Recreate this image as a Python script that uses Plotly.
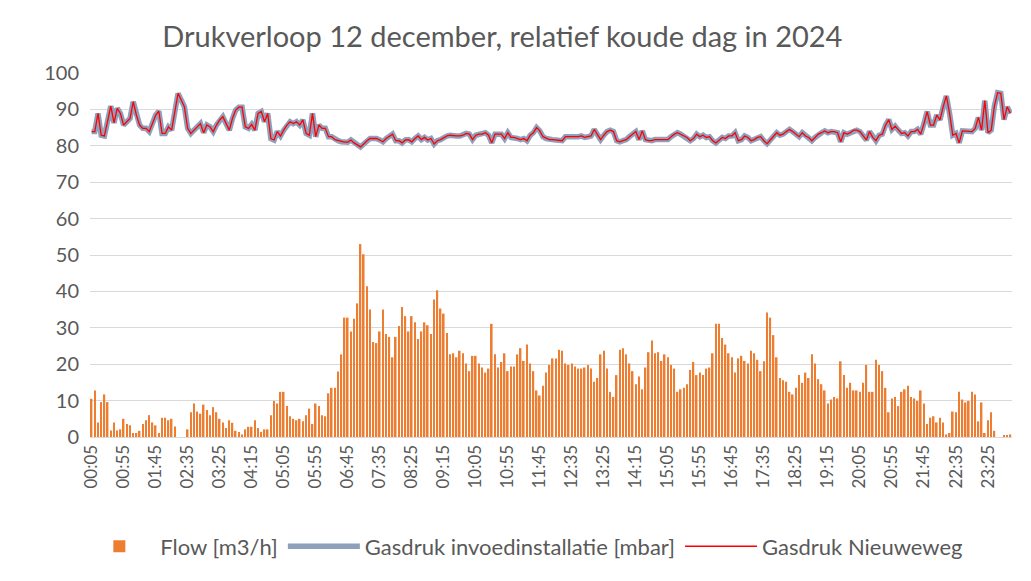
import plotly.graph_objects as go

# time stamps every 5 minutes, 00:05 .. 24:00
times = [f"{(5 * k) // 60:02d}:{(5 * k) % 60:02d}" for k in range(1, 289)]
tick_labels = times[::10]

flow = [
    10.5, 12.8, 4.0, 9.6, 11.7, 9.6, 1.8, 4.0, 1.8, 2.1,
    5.0, 3.6, 3.2, 1.1, 1.1, 1.7, 3.6, 4.6, 6.0, 4.0,
    3.2, 1.1, 5.3, 5.3, 4.6, 5.0, 2.9, 0.0, 0.0, 0.0,
    2.1, 6.8, 9.2, 7.0, 6.4, 8.9, 7.4, 6.0, 8.2, 6.8,
    5.0, 4.0, 2.5, 4.6, 3.9, 1.7, 1.4, 0.7, 2.1, 2.8,
    2.8, 4.6, 2.5, 1.4, 2.1, 2.1, 6.0, 9.9, 9.2, 12.4,
    12.4, 8.5, 5.7, 5.0, 4.6, 5.0, 4.3, 6.0, 7.8, 3.6,
    9.2, 8.5, 6.0, 5.7, 12.0, 13.5, 13.5, 18.0, 22.7, 32.8,
    32.8, 29.0, 32.5, 36.7, 53.0, 50.2, 41.4, 35.0, 26.1, 25.8,
    29.0, 35.0, 28.3, 27.5, 21.9, 27.5, 30.5, 35.7, 33.2, 29.0,
    33.2, 31.5, 26.9, 29.0, 31.5, 30.7, 28.3, 37.8, 40.3, 35.3,
    33.9, 28.6, 22.7, 23.0, 21.9, 23.7, 23.0, 20.2, 18.1, 22.3,
    22.3, 20.2, 19.1, 17.7, 18.8, 31.1, 22.7, 19.1, 20.6, 23.0,
    18.1, 19.4, 19.4, 22.7, 24.4, 20.9, 25.4, 20.2, 18.1, 12.8,
    11.4, 14.1, 17.7, 19.8, 21.6, 21.6, 24.0, 23.7, 20.2, 19.8,
    20.2, 19.4, 18.8, 18.8, 19.1, 19.8, 18.8, 15.2, 16.2, 22.7,
    23.7, 18.8, 12.4, 11.0, 17.0, 24.0, 24.4, 22.7, 20.2, 18.1,
    14.5, 16.6, 13.1, 19.1, 23.3, 26.5, 23.0, 23.3, 20.9, 22.7,
    21.9, 19.8, 18.8, 12.4, 13.1, 13.5, 14.5, 18.4, 20.6, 17.0,
    17.7, 17.0, 18.8, 19.1, 23.0, 31.1, 31.1, 27.2, 25.4, 23.0,
    21.9, 17.7, 21.6, 22.3, 20.9, 20.2, 23.7, 23.0, 21.2, 18.1,
    20.8, 34.2, 32.8, 28.0, 21.9, 16.2, 15.6, 15.2, 12.4, 11.7,
    13.5, 17.0, 14.9, 17.7, 16.2, 22.7, 20.2, 15.9, 14.5, 12.8,
    9.2, 10.3, 11.0, 10.6, 20.8, 17.0, 13.5, 14.9, 12.8, 12.8,
    12.4, 14.9, 19.8, 12.4, 12.4, 21.2, 19.8, 18.1, 13.5, 6.8,
    10.6, 11.0, 8.5, 12.4, 13.1, 14.1, 11.0, 10.6, 9.9, 12.8,
    9.2, 3.6, 5.3, 5.7, 4.0, 5.3, 4.0, 0.7, 1.1, 7.0,
    6.8, 12.4, 10.3, 9.5, 9.9, 12.4, 11.7, 4.3, 9.5, 1.1,
    4.6, 6.8, 1.7, 0.0, 0.0, 0.5, 0.5, 0.7,
]

druk_invoed = [
    83.9, 83.9, 88.9, 82.9, 82.7, 86.6, 90.9, 86.3, 90.3, 88.9,
    85.7, 86.6, 87.5, 92.1, 88.4, 85.7, 84.8, 84.8, 83.9, 86.1,
    88.4, 89.5, 83.4, 83.4, 85.2, 84.3, 89.4, 94.4, 92.6, 90.7,
    84.8, 83.4, 84.3, 85.2, 86.1, 83.6, 85.7, 85.2, 83.9, 85.7,
    87.1, 88.0, 86.1, 84.3, 87.5, 89.8, 90.6, 90.6, 85.2, 84.8,
    85.9, 84.3, 88.9, 89.4, 86.6, 88.9, 82.0, 81.6, 83.9, 82.7,
    84.3, 85.7, 86.6, 86.1, 86.6, 85.7, 87.1, 83.4, 82.9, 88.9,
    82.5, 85.7, 84.8, 84.8, 82.5, 82.5, 81.7, 81.4, 81.1, 81.0,
    81.0, 81.6, 80.8, 80.2, 79.7, 80.5, 81.4, 82.0, 82.0, 82.0,
    81.6, 81.1, 82.0, 82.5, 83.2, 81.4, 81.4, 80.8, 81.6, 81.7,
    81.1, 82.0, 82.7, 81.7, 82.3, 81.6, 82.0, 80.5, 81.4, 81.7,
    82.3, 82.7, 82.9, 82.7, 82.7, 82.7, 82.9, 83.4, 83.2, 81.7,
    82.9, 83.2, 83.2, 83.6, 82.9, 80.8, 83.2, 83.2, 83.2, 82.0,
    83.6, 82.3, 82.3, 82.0, 81.7, 82.0, 81.4, 82.9, 83.6, 85.0,
    84.1, 82.5, 82.0, 81.7, 81.7, 81.6, 81.4, 81.4, 82.5, 82.5,
    82.5, 82.3, 82.5, 82.7, 82.3, 82.5, 82.7, 84.5, 82.9, 81.7,
    82.9, 83.9, 84.3, 83.9, 81.4, 81.1, 81.4, 81.7, 82.5, 83.2,
    83.9, 81.7, 84.1, 81.7, 81.4, 81.4, 81.7, 81.7, 81.7, 81.7,
    81.7, 82.5, 83.2, 83.6, 83.2, 82.7, 82.3, 81.4, 82.0, 83.2,
    82.5, 82.9, 82.3, 82.5, 81.4, 80.8, 81.6, 82.3, 82.0, 82.7,
    82.7, 83.6, 81.4, 81.7, 82.7, 82.3, 81.4, 81.7, 82.3, 82.5,
    81.4, 80.6, 81.6, 82.5, 83.6, 82.9, 83.2, 83.9, 84.5, 83.9,
    83.2, 82.5, 83.6, 82.7, 82.3, 81.4, 82.3, 83.2, 83.6, 84.1,
    83.6, 83.9, 83.9, 83.6, 81.1, 83.6, 83.2, 83.6, 84.3, 84.3,
    83.9, 82.7, 81.6, 83.9, 82.3, 81.4, 82.9, 83.2, 85.7, 87.2,
    84.5, 85.4, 84.3, 83.4, 83.6, 82.7, 83.9, 83.9, 84.5, 83.2,
    86.1, 89.4, 85.7, 85.7, 88.4, 87.1, 90.7, 93.7, 88.9, 82.9,
    83.4, 80.8, 84.1, 84.1, 84.1, 83.9, 84.8, 87.8, 84.3, 92.4,
    83.6, 84.3, 90.9, 94.6, 94.4, 87.2, 90.7, 88.9,
]

druk_nieuweweg = list(druk_invoed)

title_text = "Drukverloop 12 december, relatief koude dag in 2024"
font_family = "Lato, 'Open Sans', sans-serif"
grey_text = "#595959"

fig = go.Figure()
fig.add_trace(go.Bar(
    x=times, y=flow, name="Flow [m3/h]",
    marker=dict(color="#ED7D31", line=dict(width=0)),
))
fig.add_trace(go.Scatter(
    x=times, y=druk_invoed, name="Gasdruk invoedinstallatie [mbar]",
    mode="lines", line=dict(color="#8FA0BC", width=5.5),
))
fig.add_trace(go.Scatter(
    x=times, y=druk_nieuweweg, name="Gasdruk Nieuweweg",
    mode="lines", line=dict(color="#FF0000", width=1.3),
))

fig.update_layout(
    width=1015, height=565,
    paper_bgcolor="white", plot_bgcolor="white",
    margin=dict(l=82, r=11, t=65, b=136),
    bargap=0.5,
    title=dict(text=title_text, x=0.487, xanchor="center", y=0.949, yanchor="middle",
               font=dict(family=font_family, size=29, color=grey_text)),
    font=dict(family=font_family, color=grey_text),
    showlegend=True,
    legend=dict(orientation="h", x=0.47, xanchor="center",
                yref="container", y=0.047, yanchor="middle",
                font=dict(family=font_family, size=22, color=grey_text),
                itemwidth=72, tracegroupgap=0),
)
fig.update_xaxes(
    type="category", tickmode="array", tickvals=tick_labels, ticktext=tick_labels,
    tickangle=-90, tickfont=dict(size=17, color=grey_text),
    showgrid=False, showline=True, linecolor="#D9D9D9", linewidth=1,
    ticks="", range=[-0.5, 287.5], automargin=False,
)
fig.update_yaxes(
    range=[0, 100], dtick=10, tickfont=dict(size=20, color=grey_text),
    showgrid=True, gridcolor="#D9D9D9", gridwidth=1, zeroline=False,
    showline=False, ticks="", ticklabelstandoff=10, automargin=False,
)

fig.write_html("out.html")
